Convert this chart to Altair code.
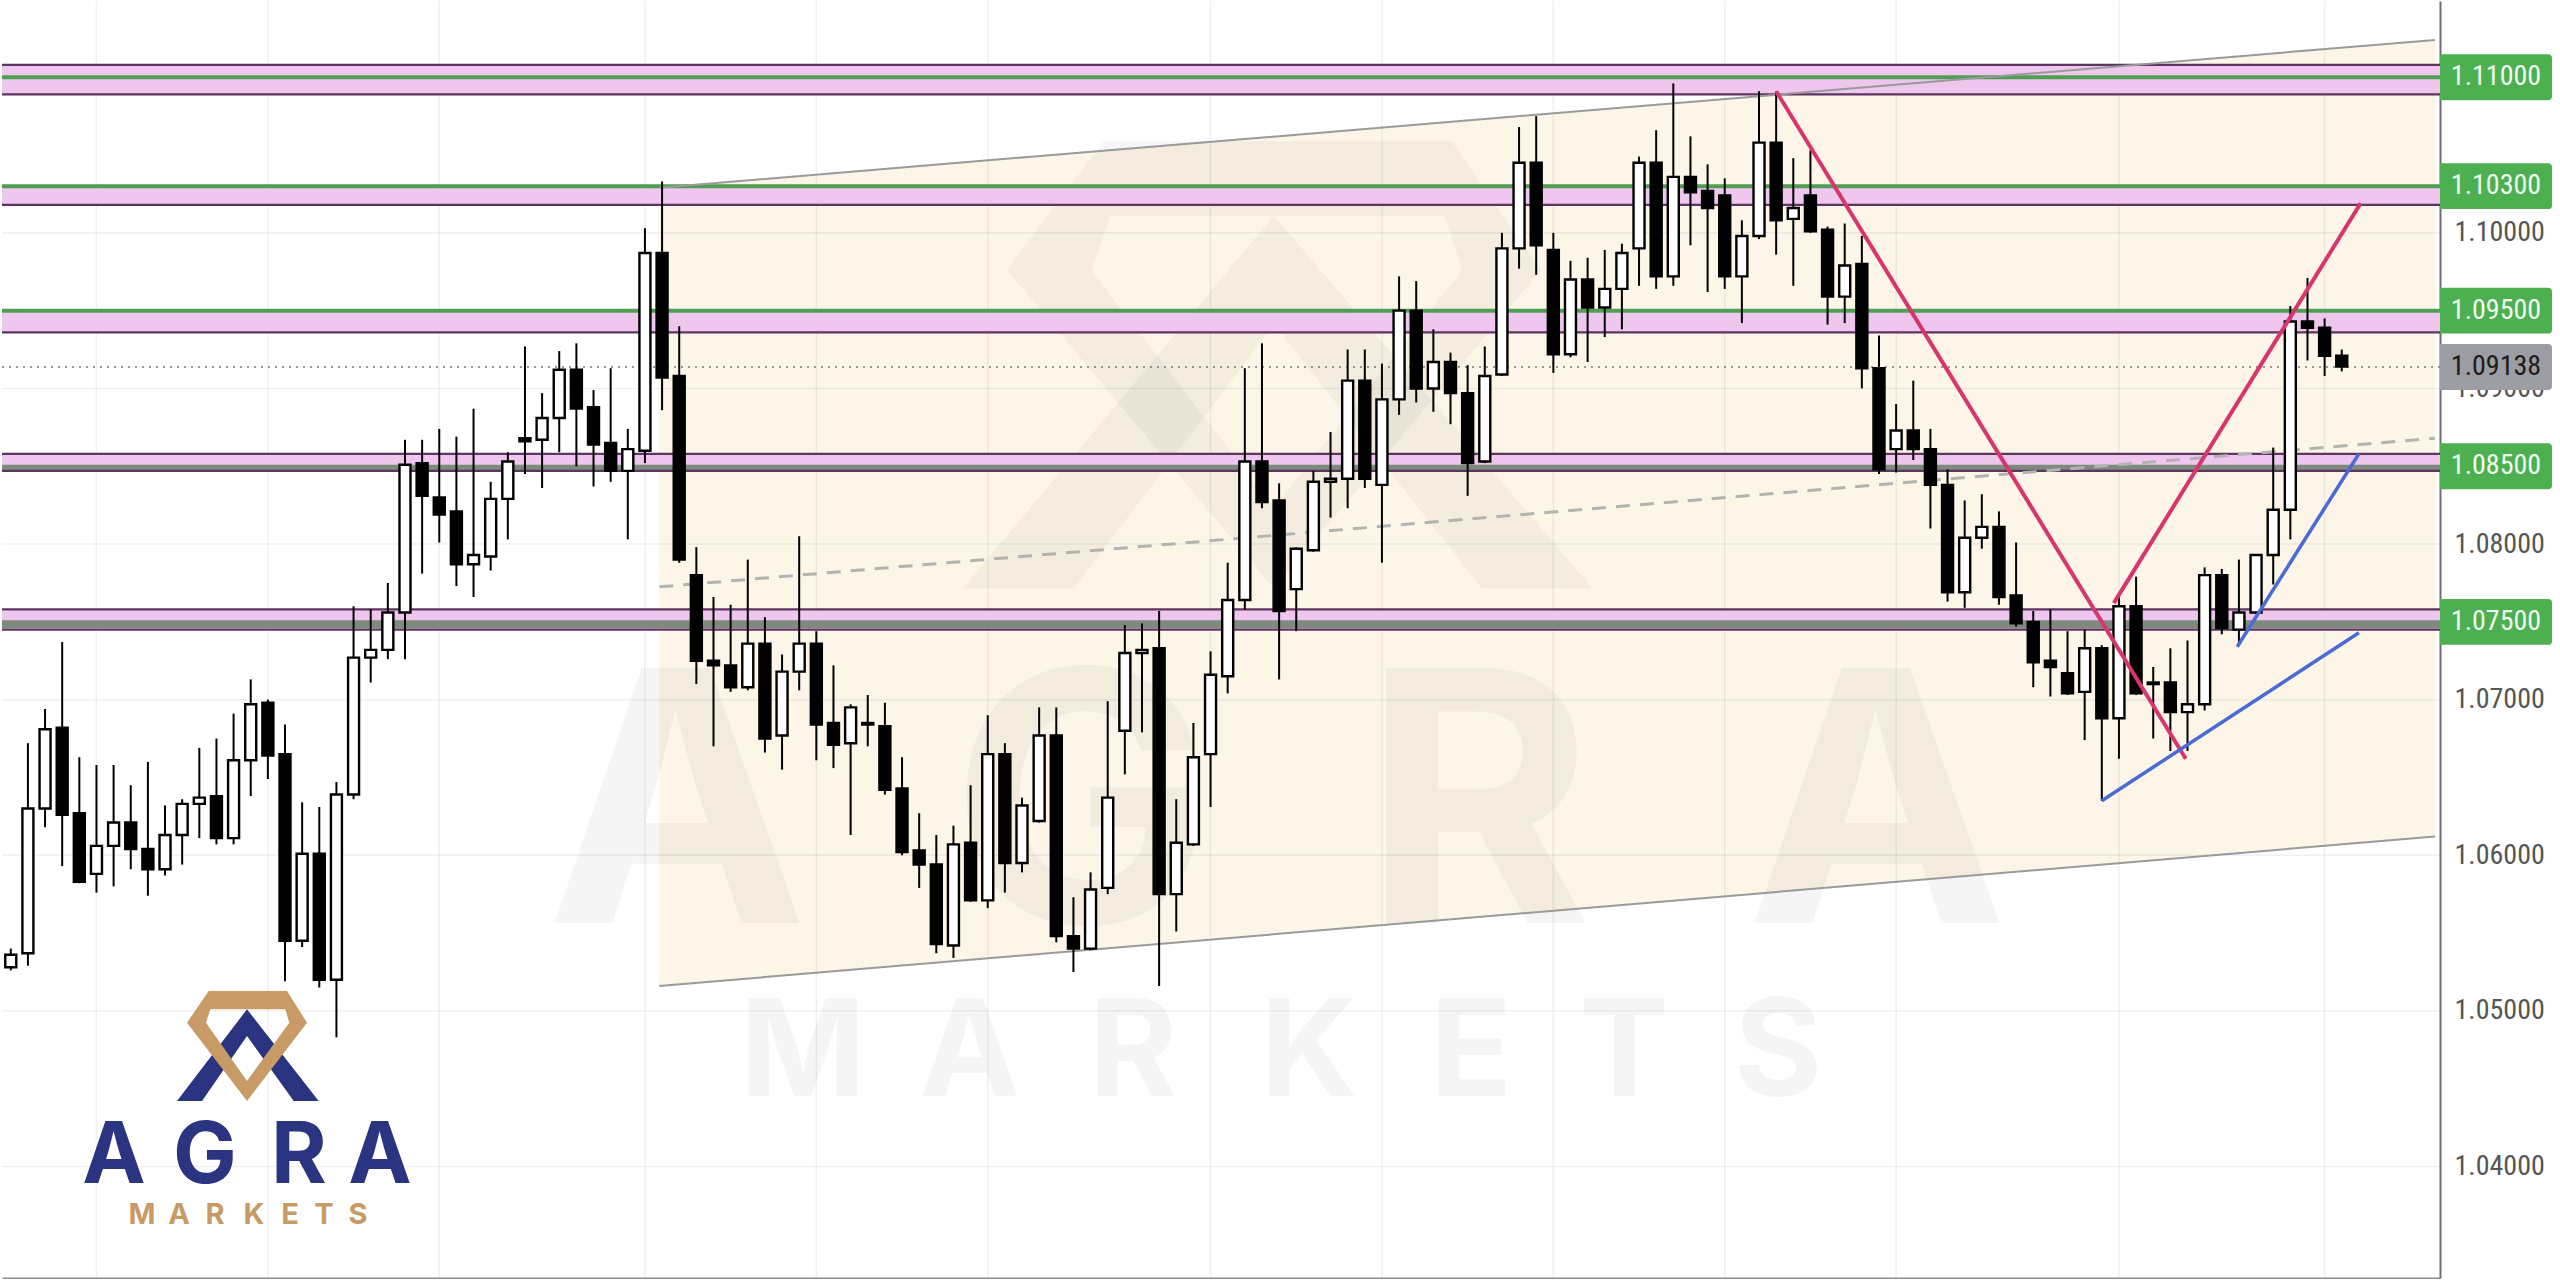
import altair as alt
import pandas as pd

# ---------------- data ----------------
candle_index = list(range(-1, 136))
opens = [1.0528, 1.0537, 1.0630, 1.0682, 1.0627, 1.0588, 1.0606, 1.0621, 1.0604, 1.0591, 1.0613,
         1.0633, 1.0638, 1.0611, 1.0661, 1.0698, 1.0665, 1.0545, 1.0601, 1.0520, 1.0639,
         1.0727, 1.0732, 1.0756, 1.0852, 1.0830, 1.0821, 1.0787, 1.0792, 1.0829, 1.0868,
         1.0867, 1.0881, 1.0912, 1.0888, 1.0865, 1.0847, 1.0860, 1.0987, 1.0908, 1.0780,
         1.0725, 1.0722, 1.0708, 1.0736, 1.0677, 1.0718, 1.0736, 1.0685, 1.0672, 1.0685,
         1.0683, 1.0643, 1.0603, 1.0594, 1.0542, 1.0608, 1.0571, 1.0665, 1.0595, 1.0622,
         1.0677, 1.0548, 1.0540, 1.0579, 1.0680, 1.0730, 1.0733, 1.0575, 1.0607, 1.0665,
         1.0715, 1.0764, 1.0853, 1.0828, 1.0771, 1.0796, 1.0840, 1.0842, 1.0905, 1.0838,
         1.0893, 1.0950, 1.0900, 1.0917, 1.0897, 1.0853, 1.0909, 1.0990, 1.1045, 1.0989,
         1.0922, 1.0970, 1.0952, 1.0964, 1.0990, 1.1045, 1.0972, 1.1036, 1.1027, 1.1024,
         1.0972, 1.0998, 1.1058, 1.1009, 1.1024, 1.1002, 1.0959, 1.0980, 1.0913, 1.0861,
         1.0873, 1.0861, 1.0838, 1.0769, 1.0804, 1.0811, 1.0767, 1.0750, 1.0725, 1.0717,
         1.0705, 1.0733, 1.0688, 1.0760, 1.0711, 1.0711, 1.0692, 1.0697, 1.0780, 1.0745,
         1.0756, 1.0793, 1.0822, 1.0943, 1.0939, 1.0921]
highs = [1.0540, 1.0672, 1.0694, 1.0737, 1.0663, 1.0658, 1.0658, 1.0645, 1.0660, 1.0632, 1.0636,
         1.0669, 1.0675, 1.0691, 1.0713, 1.0700, 1.0684, 1.0634, 1.0631, 1.0647, 1.0760,
         1.0758, 1.0775, 1.0867, 1.0867, 1.0874, 1.0869, 1.0887, 1.0840, 1.0859, 1.0927,
         1.0897, 1.0924, 1.0929, 1.0899, 1.0913, 1.0874, 1.1003, 1.1033, 1.0940, 1.0798,
         1.0766, 1.0761, 1.0790, 1.0753, 1.0729, 1.0805, 1.0744, 1.0722, 1.0697, 1.0703,
         1.0698, 1.0663, 1.0627, 1.0613, 1.0619, 1.0645, 1.0690, 1.0672, 1.0637, 1.0695,
         1.0695, 1.0573, 1.0589, 1.0699, 1.0748, 1.0749, 1.0757, 1.0636, 1.0685, 1.0731,
         1.0788, 1.0913, 1.0929, 1.0839, 1.0798, 1.0847, 1.0872, 1.0925, 1.0925, 1.0916,
         1.0972, 1.0969, 1.0938, 1.0923, 1.0915, 1.0927, 1.1000, 1.1068, 1.1075, 1.1000,
         1.0982, 1.0984, 1.0989, 1.0993, 1.1049, 1.1066, 1.1096, 1.1062, 1.1044, 1.1035,
         1.1008, 1.1091, 1.1091, 1.1048, 1.1053, 1.1004, 1.1006, 1.0998, 1.0934, 1.0890,
         1.0905, 1.0874, 1.0848, 1.0828, 1.0832, 1.0821, 1.0801, 1.0757, 1.0758, 1.0744,
         1.0745, 1.0735, 1.0767, 1.0779, 1.0721, 1.0733, 1.0738, 1.0785, 1.0784, 1.0790,
         1.0793, 1.0862, 1.0953, 1.0971, 1.0945, 1.0925]
lows = [1.0526, 1.0529, 1.0618, 1.0593, 1.0582, 1.0576, 1.0580, 1.0591, 1.0574, 1.0587, 1.0594,
        1.0611, 1.0607, 1.0607, 1.0638, 1.0649, 1.0519, 1.0541, 1.0515, 1.0483, 1.0636,
        1.0711, 1.0726, 1.0726, 1.0781, 1.0801, 1.0773, 1.0766, 1.0783, 1.0803, 1.0845,
        1.0836, 1.0859, 1.0850, 1.0837, 1.0840, 1.0803, 1.0852, 1.0886, 1.0788, 1.0710,
        1.0670, 1.0705, 1.0706, 1.0666, 1.0655, 1.0706, 1.0661, 1.0656, 1.0613, 1.0670,
        1.0639, 1.0600, 1.0579, 1.0537, 1.0534, 1.0570, 1.0566, 1.0576, 1.0589, 1.0621,
        1.0544, 1.0525, 1.0539, 1.0575, 1.0652, 1.0679, 1.0516, 1.0551, 1.0606, 1.0631,
        1.0704, 1.0758, 1.0823, 1.0713, 1.0744, 1.0795, 1.0817, 1.0823, 1.0836, 1.0788,
        1.0883, 1.0891, 1.0885, 1.0877, 1.0831, 1.0852, 1.0908, 1.0977, 1.0973, 1.0910,
        1.0920, 1.0917, 1.0933, 1.0938, 1.0966, 1.0964, 1.0966, 1.0992, 1.0962, 1.0964,
        1.0942, 1.0996, 1.0986, 1.0966, 1.1000, 1.0941, 1.0942, 1.0900, 1.0845, 1.0846,
        1.0854, 1.0810, 1.0763, 1.0759, 1.0797, 1.0761, 1.0747, 1.0708, 1.0702, 1.0703,
        1.0674, 1.0635, 1.0662, 1.0703, 1.0675, 1.0667, 1.0667, 1.0693, 1.0742, 1.0735,
        1.0755, 1.0774, 1.0803, 1.0918, 1.0908, 1.0911]
closes = [1.0536, 1.0630, 1.0681, 1.0626, 1.0583, 1.0606, 1.0621, 1.0604, 1.0591, 1.0613, 1.0633,
          1.0637, 1.0611, 1.0661, 1.0697, 1.0664, 1.0545, 1.0601, 1.0520, 1.0639, 1.0727,
          1.0732, 1.0756, 1.0851, 1.0831, 1.0819, 1.0787, 1.0793, 1.0829, 1.0853, 1.0866,
          1.0881, 1.0912, 1.0887, 1.0864, 1.0847, 1.0861, 1.0987, 1.0907, 1.0790, 1.0725,
          1.0722, 1.0708, 1.0736, 1.0675, 1.0718, 1.0736, 1.0684, 1.0671, 1.0695, 1.0684,
          1.0642, 1.0602, 1.0594, 1.0543, 1.0607, 1.0571, 1.0665, 1.0595, 1.0632, 1.0677,
          1.0548, 1.0540, 1.0578, 1.0637, 1.0730, 1.0732, 1.0575, 1.0608, 1.0663, 1.0716,
          1.0764, 1.0853, 1.0827, 1.0757, 1.0797, 1.0840, 1.0842, 1.0905, 1.0842, 1.0893,
          1.0950, 1.0900, 1.0917, 1.0897, 1.0852, 1.0908, 1.0990, 1.1045, 1.0992, 1.0922,
          1.0970, 1.0952, 1.0964, 1.0987, 1.1045, 1.0972, 1.1036, 1.1026, 1.1016, 1.0972,
          1.0998, 1.1058, 1.1008, 1.1016, 1.1001, 1.0959, 1.0979, 1.0913, 1.0848, 1.0873,
          1.0861, 1.0838, 1.0769, 1.0804, 1.0811, 1.0766, 1.0749, 1.0724, 1.0721, 1.0704,
          1.0733, 1.0688, 1.0760, 1.0704, 1.0710, 1.0692, 1.0697, 1.0780, 1.0746, 1.0756,
          1.0793, 1.0822, 1.0943, 1.0939, 1.0921, 1.0914]

tick_values = [1.04, 1.05, 1.06, 1.07, 1.08, 1.09, 1.10, 1.11]
vgrid_index = [4, 14, 24, 36, 46, 56, 69, 79, 89, 99, 109, 122, 134]

zone_lo = [1.1089, 1.1018, 1.0936, 1.0847, 1.0745]
zone_hi = [1.1108, 1.1030, 1.0949, 1.0858, 1.0758]
purple_levels = [1.1108, 1.1089, 1.1018, 1.0936, 1.0858, 1.0847, 1.0758, 1.0745]
green_levels = [1.1100, 1.1030, 1.0950]
gray_lo = [1.0847, 1.0746]
gray_hi = [1.0851, 1.0751]

channel_x = [36.84, 140.44]
channel_lower = [1.0516, 1.0612]
channel_upper = [1.1029, 1.1124]

current_price = 1.09138
badge_prices = [1.1100, 1.1030, 1.0950, 1.0850, 1.0750]
badge_labels = ["1.11000", "1.10300", "1.09500", "1.08500", "1.07500"]

red_x = [[102.0, 125.9], [121.7, 136.1]]
red_p = [[1.1091, 1.0662], [1.0762, 1.1019]]
blue_x = [[121.0, 136.0], [128.9, 136.0]]
blue_p = [[1.0635, 1.0743], [1.0734, 1.0858]]

# ---------------- setup ----------------
W, H = 2438, 1277
xs = alt.Scale(domain=[-1.22, 140.44], nice=False, zero=False)
ys = alt.Scale(domain=[1.03283, 1.11490], nice=False, zero=False)
NARROW = "Liberation Sans Narrow, Roboto Condensed, DejaVu Sans Condensed, Liberation Sans, sans-serif"

x_axis = alt.Axis(orient="bottom", labels=False, ticks=False, grid=False,
                  domainColor="#8c8c8c", domainWidth=2, title=None)
y_axis = alt.Axis(orient="right", values=tick_values, format=".5f", labelFont=NARROW,
                  labelFontSize=28, labelColor="#555555", ticks=False, labelPadding=14,
                  grid=False, domainColor="#6f6f6f", domainWidth=2, title=None)


def X(f):
    return alt.X(f"{f}:Q", scale=xs, axis=x_axis)


def Y(f):
    return alt.Y(f"{f}:Q", scale=ys, axis=y_axis)


one = pd.DataFrame({"k": [0]})
layers = []

# channel fill
ch = pd.DataFrame({"i": channel_x, "lo": channel_lower, "hi": channel_upper})
ch["mid"] = (ch["lo"] + ch["hi"]) / 2
layers.append(alt.Chart(ch).mark_area(color="#fcf3e4", opacity=0.85).encode(x=X("i"), y=Y("lo"), y2="hi"))

# grid
layers.append(alt.Chart(pd.DataFrame({"g": vgrid_index})).mark_rule(color="#000000", opacity=0.06, strokeWidth=1.5)
              .encode(x=X("g"), y=alt.value(0), y2=alt.value(H)))
layers.append(alt.Chart(pd.DataFrame({"t": tick_values})).mark_rule(color="#000000", opacity=0.06, strokeWidth=1.5)
              .encode(y=Y("t"), x=alt.value(0), x2=alt.value(W)))


# logo shape helpers (decorative)
def pathify(polys, r, sx=1.0, sy=1.0):
    s = []
    for pts in polys:
        s.append("M " + " L ".join(f"{px * sx / r:.4f} {py * sy / r:.4f}" for px, py in pts) + " Z")
    return " ".join(s)


diamond_outer = [(-38.3, -55), (40, -55), (60, -23.3), (0, 55), (-60, -23.3)]
diamond_inner = [(-36.7, -36.7), (-41, -23.3), (0, 35), (42.3, -23.3), (38.3, -36.7)]
chevron = [(-70, 55), (0, -36.7), (71.7, 55), (46.7, 55), (0, -10), (-45, 55)]


def shape_layer(path, r, cx, cy, color, opacity):
    return alt.Chart(one).mark_point(shape=path, size=(2 * r) ** 2, filled=True, fill=color,
                                     opacity=opacity, strokeWidth=0).encode(x=alt.value(cx), y=alt.value(cy))


def letters_layer(text, xs_px, y, size, color, opacity):
    out = []
    for ch_, px in zip(text, xs_px):
        out.append(alt.Chart(one).mark_text(text=ch_, font="Inter", fontWeight="bold", fontSize=size,
                                            color=color, opacity=opacity, align="center",
                                            baseline="alphabetic").encode(x=alt.value(px), y=alt.value(y)))
    return out


# watermark
WM = "#000000"
layers.append(shape_layer(pathify([chevron], 330, 4.45, 4.07), 330, 1272, 364, WM, 0.035))
layers.append(shape_layer(pathify([diamond_outer, diamond_inner], 330, 4.45, 4.07), 330, 1272, 364, WM, 0.035))
layers += letters_layer("AGRA", [675, 1080, 1476, 1875], 922, 350, WM, 0.035)
layers += letters_layer("MARKETS", [801, 968, 1131, 1307, 1469, 1622, 1776], 1095, 135, WM, 0.035)

# zones
zdf = pd.DataFrame({"lo": zone_lo, "hi": zone_hi})
layers.append(alt.Chart(zdf).mark_rect(color="#eec6ee").encode(x=alt.value(0), x2=alt.value(W), y=Y("lo"), y2="hi"))
gdf = pd.DataFrame({"lo": gray_lo, "hi": gray_hi})
layers.append(alt.Chart(gdf).mark_rect(color="#7f8a7f").encode(x=alt.value(0), x2=alt.value(W), y=Y("lo"), y2="hi"))
layers.append(alt.Chart(pd.DataFrame({"p": purple_levels})).mark_rule(color="#5e3560", strokeWidth=2.2)
              .encode(y=Y("p"), x=alt.value(0), x2=alt.value(W)))
layers.append(alt.Chart(pd.DataFrame({"p": green_levels})).mark_rule(color="#4f9f52", strokeWidth=4)
              .encode(y=Y("p"), x=alt.value(0), x2=alt.value(W)))

# channel lines
layers.append(alt.Chart(ch).mark_line(color="#9a9a9a", strokeWidth=2).encode(x=X("i"), y=Y("hi")))
layers.append(alt.Chart(ch).mark_line(color="#9a9a9a", strokeWidth=2).encode(x=X("i"), y=Y("lo")))
layers.append(alt.Chart(ch).mark_line(color="#b3b3b3", strokeWidth=3, strokeDash=[14, 10]).encode(x=X("i"), y=Y("mid")))

# current price dotted line
layers.append(alt.Chart(pd.DataFrame({"p": [current_price]})).mark_rule(color="#7a7a7a", strokeWidth=1.5, strokeDash=[2, 5])
              .encode(y=Y("p"), x=alt.value(0), x2=alt.value(W)))

# candles
df = pd.DataFrame({"i": candle_index, "o": opens, "h": highs, "l": lows, "c": closes})
df["fill"] = ["white" if c >= o else "black" for o, c in zip(df["o"], df["c"])]
layers.append(alt.Chart(df).mark_rule(color="black", strokeWidth=2, clip=True).encode(x=X("i"), y=Y("l"), y2="h"))
layers.append(alt.Chart(df).mark_bar(size=11, stroke="black", strokeWidth=2.4, clip=True)
              .encode(x=X("i"), y=Y("o"), y2="c", fill=alt.Fill("fill:N", scale=None)))


# trend lines
def seg_df(xl, pl):
    rows = []
    for g, (xx, pp) in enumerate(zip(xl, pl)):
        for a, b in zip(xx, pp):
            rows.append({"i": a, "p": b, "g": g})
    return pd.DataFrame(rows)


layers.append(alt.Chart(seg_df(red_x, red_p)).mark_line(color="#d8356c", strokeWidth=4)
              .encode(x=X("i"), y=Y("p"), detail="g:N"))
layers.append(alt.Chart(seg_df(blue_x, blue_p)).mark_line(color="#4a6bd6", strokeWidth=3.5)
              .encode(x=X("i"), y=Y("p"), detail="g:N"))

# small logo
BLUE, GOLD = "#2b3480", "#c89b66"
layers.append(shape_layer(pathify([chevron], 80), 80, 245, 1045, BLUE, 1))
layers.append(shape_layer(pathify([diamond_outer, diamond_inner], 80), 80, 245, 1045, GOLD, 1))
layers += letters_layer("AGRA", [112, 203, 297, 378], 1182, 85, BLUE, 1)
layers += letters_layer("MARKETS", [140, 177, 213, 252, 288, 322, 356], 1223, 29, GOLD, 1)

# price badges
badge_path = ("M -0.93 -0.41 L 0.93 -0.41 Q 1 -0.41 1 -0.34 L 1 0.34 Q 1 0.41 0.93 0.41 "
              "L -1 0.41 L -1 -0.41 Z")
bdf = pd.DataFrame({"p": badge_prices, "lab": badge_labels})
layers.append(alt.Chart(bdf).mark_point(shape=badge_path, size=112 ** 2, filled=True, fill="#4caf50",
                                        opacity=1, strokeWidth=0).encode(x=alt.value(2494), y=Y("p")))
layers.append(alt.Chart(bdf).mark_text(font=NARROW, fontSize=28, color="#f0fff0", align="center",
                                       baseline="middle").encode(x=alt.value(2494), y=Y("p"), text="lab:N"))
cdf = pd.DataFrame({"p": [current_price], "lab": [f"{current_price:.5f}"]})
layers.append(alt.Chart(cdf).mark_point(shape=badge_path, size=112 ** 2, filled=True, fill="#9d9da5",
                                        opacity=1, strokeWidth=0).encode(x=alt.value(2494), y=Y("p")))
layers.append(alt.Chart(cdf).mark_text(font=NARROW, fontSize=28, color="#1c1c1c", align="center",
                                       baseline="middle").encode(x=alt.value(2494), y=Y("p"), text="lab:N"))

chart = alt.layer(*layers).properties(width=W, height=H, padding=0, background="white").configure_view(stroke=None)
chart.save("out.html", embed_options={"renderer": "svg", "actions": False})
